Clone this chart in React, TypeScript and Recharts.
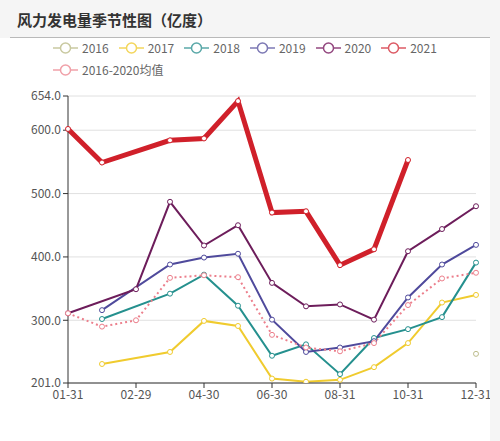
import React from "react";
import { LineChart, Line, XAxis, YAxis, CartesianGrid } from "recharts";

const categories = [
  "01-31", "02-28", "02-29", "03-31", "04-30", "05-31", "06-30",
  "07-31", "08-31", "09-30", "10-31", "11-30", "12-31",
];

const y2016 = [null, null, null, null, null, null, null, null, null, null, null, null, 247];
const y2017 = [null, 231, null, 250, 299, 291, 208, 203, 206, 226, 264, 328, 340];
const y2018 = [null, 302, null, 342, 372, 323, 244, 262, 215, 272, 286, 305, 391];
const y2019 = [null, 316, null, 388, 399, 405, 301, 250, 257, 267, 336, 388, 419];
const y2020 = [311, null, 349, 487, 418, 450, 359, 322, 325, 301, 409, 444, 480];
const y2021 = [602, 549, null, 584, 587, 646, 470, 472, 387, 412, 553, null, null];
const avg = [311, 290, 300, 367, 371, 368, 277, 257, 251, 264, 324, 366, 375];

const yTicks = [201, 300, 400, 500, 600, 654];

const series = [
  { key: "2016", values: y2016, color: "#bdbd8c", width: 2 },
  { key: "2017", values: y2017, color: "#f0cb2e", width: 2 },
  { key: "2018", values: y2018, color: "#25908e", width: 2 },
  { key: "2019", values: y2019, color: "#4f4a9c", width: 2 },
  { key: "2020", values: y2020, color: "#6d1d5b", width: 2 },
  { key: "2021", values: y2021, color: "#d0202a", width: 5 },
  { key: "2016-2020均值", values: avg, color: "#ec7f8c", width: 2, dashed: true },
];

const legendColors: Record<string, string> = {
  "2016": "#c9c9a0",
  "2017": "#f3d65c",
  "2018": "#5aa8a8",
  "2019": "#7c78b4",
  "2020": "#93477f",
  "2021": "#dc5a64",
  "2016-2020均值": "#f0a0a8",
};

const data = categories.map((c, i) => {
  const row: Record<string, string | number | null> = { date: c };
  series.forEach((s) => {
    row[s.key] = s.values[i];
  });
  return row;
});

const font = "'Noto Sans CJK SC', 'Noto Sans', sans-serif";

function LegendIcon({ color }: { color: string }) {
  return (
    <svg width={25} height={14} style={{ display: "block" }}>
      <line x1={0} y1={7} x2={25} y2={7} stroke={color} strokeWidth={1.5} />
      <circle cx={12.5} cy={7} r={5} fill="#fff" stroke={color} strokeWidth={1.5} />
    </svg>
  );
}

export default function App() {
  return (
    <div
      style={{
        position: "absolute",
        left: 0,
        top: 0,
        width: 500,
        height: 441,
        background: "#f5f5f5",
        fontFamily: font,
      }}
    >
      <div
        style={{
          position: "absolute",
          left: 10,
          top: 0,
          width: 480,
          height: 37,
          borderBottom: "1px solid #b9b9b9",
        }}
      >
        <div
          style={{
            position: "absolute",
            left: 7,
            top: 9,
            fontSize: 15,
            fontWeight: 700,
            color: "#333",
            whiteSpace: "nowrap",
          }}
        >
          风力发电量季节性图（亿度）
        </div>
      </div>
      <div
        style={{
          position: "absolute",
          left: 0,
          top: 38,
          width: 490,
          height: 403,
          background: "#fff",
        }}
      >
        <div
          style={{
            position: "absolute",
            left: 53,
            top: 3,
            width: 420,
            display: "flex",
            flexWrap: "wrap",
            rowGap: 8,
            fontSize: 12,
            color: "#666",
          }}
        >
          {series.map((s) => (
            <div
              key={s.key}
              style={{ display: "flex", alignItems: "center", marginRight: 10, height: 14 }}
            >
              <LegendIcon color={legendColors[s.key]} />
              <span style={{ marginLeft: 4, lineHeight: "14px" }}>{s.key}</span>
            </div>
          ))}
        </div>
        <LineChart
          width={490}
          height={403}
          data={data}
          margin={{ top: 58, right: 14, left: 8, bottom: 28 }}
        >
          <CartesianGrid vertical={false} stroke="#e0e0e0" />
          <XAxis
            dataKey="date"
            interval={1}
            tickLine={{ stroke: "#333" }}
            axisLine={{ stroke: "#333" }}
            tick={{ fill: "#555", fontSize: 12, fontFamily: font }}
            tickSize={5}
            height={30}
          />
          <YAxis
            domain={[201, 654]}
            ticks={yTicks}
            width={60}
            tickLine={{ stroke: "#333" }}
            axisLine={{ stroke: "#333" }}
            tick={{ fill: "#555", fontSize: 12, fontFamily: font }}
            tickSize={5}
            tickFormatter={(v: number) => v.toFixed(1)}
            allowDataOverflow
          />
          {series.map((s) => (
            <Line
              key={s.key}
              dataKey={s.key}
              type="linear"
              stroke={s.color}
              strokeWidth={s.width}
              strokeDasharray={s.dashed ? "2 3" : undefined}
              connectNulls
              dot={{ r: 2.5, fill: "#fff", stroke: s.color, strokeWidth: 1, strokeDasharray: "" }}
              isAnimationActive={false}
            />
          ))}
        </LineChart>
      </div>
    </div>
  );
}
